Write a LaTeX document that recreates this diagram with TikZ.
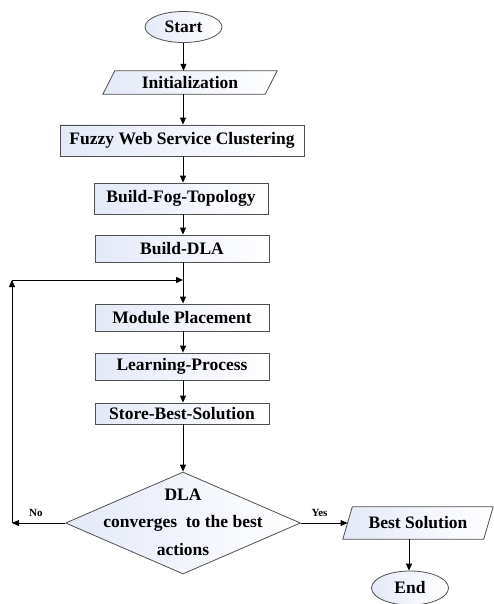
\documentclass[tikz,border=0pt]{standalone}
\usepackage{fontspec}
\setmainfont{Liberation Serif}
\usetikzlibrary{shapes.geometric,arrows.meta}
\definecolor{boxl}{HTML}{E4E9F7}
\definecolor{edge}{HTML}{505050}
\tikzset{
  txt/.style={font=\fontsize{17.5}{20}\selectfont\bfseries},
  fillsty/.style={draw=edge, line width=0.8pt, left color=boxl, right color=white},
  base/.style={fillsty, txt, inner sep=0pt},
  proc/.style={base, rectangle, minimum width=174pt},
  term/.style={base, ellipse, minimum width=77pt, minimum height=31pt},
  iotext/.style={txt, rectangle, inner sep=0pt},
  dec/.style={base, diamond, aspect=2.3, minimum width=235pt, minimum height=102pt, align=center},
  arr/.style={-{Triangle[length=7pt,width=6pt]}, line width=0.9pt},
  lbl/.style={font=\fontsize{11}{13}\selectfont\bfseries}
}
\begin{document}
\begin{tikzpicture}[x=1pt,y=-1pt]
\useasboundingbox (0,0) rectangle (494,604);
\node[term] (start) at (183.5,27) {Start};
% Initialization parallelogram
\node[iotext, minimum width=162pt, minimum height=23pt] (init) at (190,82.5) {};
\shade[fillsty] ([xshift=6pt]init.north west) -- ([xshift=6pt]init.north east) -- ([xshift=-6pt]init.south east) -- ([xshift=-6pt]init.south west) -- cycle;
\node[txt] (initl) at (init.center) {Initialization};
\node[proc, minimum width=244pt, minimum height=31pt] (fuzzy) at (182,140.5) {Fuzzy Web Service Clustering};
\node[proc, minimum height=31pt] (fog) at (181,198.5) {Build-Fog-Topology};
\node[proc, minimum height=27pt] (dla) at (182,248.5) {Build-DLA};
\coordinate (join) at (183,280);
\node[proc, minimum height=27pt] (mod) at (182,317.5) {Module Placement};
\node[proc, minimum height=27pt] (learn) at (182,366.5) {Learning-Process};
\node[proc, minimum height=21pt] (store) at (182,413.5) {Store-Best-Solution};
\node[dec] (conv) at (183,523) {};
\node[txt] (t1) at (183,495) {DLA};
\node[txt] (t2) at (183,523) {converges~ to the best};
\node[txt] (t3) at (183,550) {actions};
% Best Solution parallelogram
\node[iotext, minimum width=140.5pt, minimum height=32pt] (best) at (418,523) {};
\shade[fillsty] ([xshift=4.75pt]best.north west) -- ([xshift=4.75pt]best.north east) -- ([xshift=-4.75pt]best.south east) -- ([xshift=-4.75pt]best.south west) -- cycle;
\node[txt] (bestl) at (best.center) {Best Solution};
\node[term, minimum height=34pt] (end) at (410,588) {End};
\coordinate (lft) at (12,523);
\coordinate (lup) at (12,280);

\draw[arr] (start.south) -- (start.south |- init.north);
\draw[arr] (init.south -| 183,0) -- (fuzzy.north -| 183,0);
\draw[arr] (fuzzy.south -| 183,0) -- (fog.north -| 183,0);
\draw[arr] (fog.south -| 183,0) -- (dla.north -| 183,0);
\draw[line width=0.9pt] (dla.south -| 183,0) -- (join);
\draw[arr] (join) -- (mod.north -| 183,0);
\draw[arr] (mod.south -| 183,0) -- (learn.north -| 183,0);
\draw[arr] (learn.south -| 183,0) -- (store.north -| 183,0);
\draw[arr] (store.south -| 183,0) -- (conv.north);
\draw[arr] (conv.west) -- node[lbl, above, pos=0.55, yshift=3pt] (no) {No} (lft);
\draw[arr] (lft) -- (lup);
\draw[arr] (lup) -- (join);
\draw[arr] (conv.east) -- node[lbl, above, pos=0.4, yshift=3pt] (yes) {Yes} (best.west);
\draw[arr] (best.south -| 409,0) -- (end.north -| 409,0);
\end{tikzpicture}
\end{document}
